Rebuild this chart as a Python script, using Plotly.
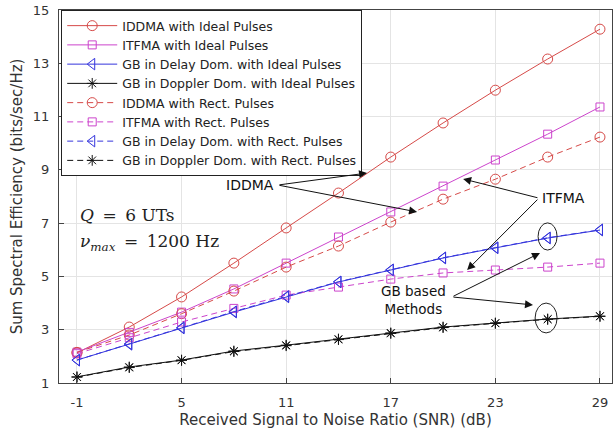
import plotly.graph_objects as go

snr = [-1, 2, 5, 8, 11, 14, 17, 20, 23, 26, 29]

iddma_ideal = [2.13, 3.10, 4.23, 5.50, 6.82, 8.13, 9.48, 10.76, 11.99, 13.16, 14.28]
itfma_ideal = [2.16, 2.90, 3.66, 4.53, 5.50, 6.48, 7.42, 8.39, 9.37, 10.34, 11.36]
gbdelay_ideal = [1.86, 2.45, 3.06, 3.66, 4.23, 4.79, 5.24, 5.69, 6.07, 6.44, 6.74]
gbdopp_ideal = [1.23, 1.60, 1.86, 2.20, 2.42, 2.65, 2.88, 3.10, 3.25, 3.40, 3.51]

iddma_rect = [2.15, 2.80, 3.60, 4.45, 5.35, 6.14, 7.04, 7.90, 8.65, 9.48, 10.23]
itfma_rect = [2.10, 2.70, 3.29, 3.80, 4.30, 4.60, 4.90, 5.13, 5.24, 5.35, 5.50]
gbdelay_rect = [1.86, 2.47, 3.08, 3.68, 4.25, 4.80, 5.25, 5.70, 6.08, 6.45, 6.75]
gbdopp_rect = [1.22, 1.58, 1.85, 2.18, 2.40, 2.63, 2.86, 3.08, 3.24, 3.39, 3.50]

x_ticks = [-1, 5, 11, 17, 23, 29]
y_ticks = [1, 3, 5, 7, 9, 11, 13, 15]

RED = "#d64a48"
MAG = "#cc44cc"
BLUE = "#3535dd"
BLK = "#111111"

series = [
    ("IDDMA with Ideal Pulses", iddma_ideal, RED, "circle-open", "solid", 10),
    ("ITFMA with Ideal Pulses", itfma_ideal, MAG, "square-open", "solid", 8),
    ("GB in Delay Dom. with Ideal Pulses", gbdelay_ideal, BLUE, "triangle-left-open", "solid", 10),
    ("GB in Doppler Dom. with Ideal Pulses", gbdopp_ideal, BLK, "asterisk-open", "solid", 9),
    ("IDDMA with Rect. Pulses", iddma_rect, RED, "circle-open", "6px,4px", 10),
    ("ITFMA with Rect. Pulses", itfma_rect, MAG, "square-open", "6px,4px", 8),
    ("GB in Delay Dom. with Rect. Pulses", gbdelay_rect, BLUE, "triangle-left-open", "6px,4px", 10),
    ("GB in Doppler Dom. with Rect. Pulses", gbdopp_rect, BLK, "asterisk-open", "6px,4px", 9),
]

fig = go.Figure()
for name, vals, col, sym, dash, size in series:
    fig.add_trace(go.Scatter(
        x=snr, y=vals, name=name, mode="lines+markers",
        line=dict(color=col, width=1, dash=dash),
        marker=dict(symbol=sym, size=size, color=col, line=dict(color=col, width=1)),
    ))

font = "DejaVu Sans, Liberation Sans, Arial, sans-serif"
ax_common = dict(
    showline=True, mirror=True, linecolor="#444", linewidth=1,
    ticks="inside", ticklen=5, tickcolor="#444",
    showgrid=True, gridcolor="#e4e4e4", gridwidth=1, zeroline=False,
    tickfont=dict(family=font, size=13, color="#333"),
    automargin=False,
)

fig.update_layout(
    width=615, height=429,
    margin=dict(l=59, r=3, t=10, b=46),
    paper_bgcolor="white", plot_bgcolor="white",
    font=dict(family=font, color="#222"),
    showlegend=True,
    legend=dict(
        x=0.004, y=1.0, xanchor="left", yanchor="top",
        bgcolor="white", bordercolor="#222", borderwidth=1,
        font=dict(family=font, size=12.5, color="#222"),
        itemwidth=50, tracegroupgap=0,
    ),
    xaxis=dict(range=[-2.03, 29.69], tickvals=x_ticks, ticktext=[str(v) for v in x_ticks],
               ticklabelstandoff=7,
               title=dict(text="Received Signal to Noise Ratio (SNR) (dB)",
                          font=dict(family=font, size=15, color="#333"), standoff=9),
               **ax_common),
    yaxis=dict(range=[1, 15], tickvals=y_ticks, ticktext=[str(v) for v in y_ticks],
               ticklabelstandoff=6,
               title=dict(text="Sum Spectral Efficiency (bits/sec/Hz)",
                          font=dict(family=font, size=15, color="#333"), standoff=6),
               **ax_common),
)

arrow = dict(showarrow=True, arrowhead=2, arrowsize=1.6, arrowwidth=1, arrowcolor="#111",
             axref="x", ayref="y", text="")
# IDDMA
fig.add_annotation(x=10.42, y=8.43, text="IDDMA", showarrow=False, xanchor="right",
                   font=dict(family=font, size=14, color="#111"))
fig.add_annotation(x=15.64, y=8.88, ax=10.53, ay=8.43, **arrow)
fig.add_annotation(x=18.51, y=7.42, ax=10.53, ay=8.43, **arrow)
# ITFMA
fig.add_annotation(x=25.56, y=7.94, text="ITFMA", showarrow=False, xanchor="left",
                   font=dict(family=font, size=14, color="#111"))
fig.add_annotation(x=21.15, y=8.66, ax=25.5, ay=7.94, **arrow)
fig.add_annotation(x=21.38, y=5.24, ax=25.5, ay=7.94, **arrow)
# GB based methods
fig.add_annotation(x=18.3, y=4.1, text="GB based<br>Methods", showarrow=False,
                   font=dict(family=font, size=13.5, color="#111"))
fig.add_annotation(x=25.56, y=5.88, ax=20.51, ay=4.23, **arrow)
fig.add_annotation(x=25.16, y=3.93, ax=20.51, ay=4.23, **arrow)

fig.add_shape(type="circle", xref="x", yref="y", x0=25.45, x1=26.54, y0=5.99, y1=7.01,
              line=dict(color="#222", width=1))
fig.add_shape(type="circle", xref="x", yref="y", x0=25.28, x1=26.54, y0=2.88, y1=4.0,
              line=dict(color="#222", width=1))

serif = "DejaVu Serif, Liberation Serif, serif"
fig.add_annotation(x=-0.94, y=7.31, text="<i>Q</i>\u2002=\u20026 UTs", showarrow=False, xanchor="left",
                   font=dict(family=serif, size=17, color="#222"))
fig.add_annotation(x=-0.94, y=6.26, text="<i>ν</i><sub><i>max</i></sub>\u2002=\u20021200 Hz", showarrow=False,
                   xanchor="left", font=dict(family=serif, size=17, color="#222"))

fig.write_html("out.html", config={"displayModeBar": False},
               post_script="document.body.style.margin='0';document.body.style.overflow='hidden';")
